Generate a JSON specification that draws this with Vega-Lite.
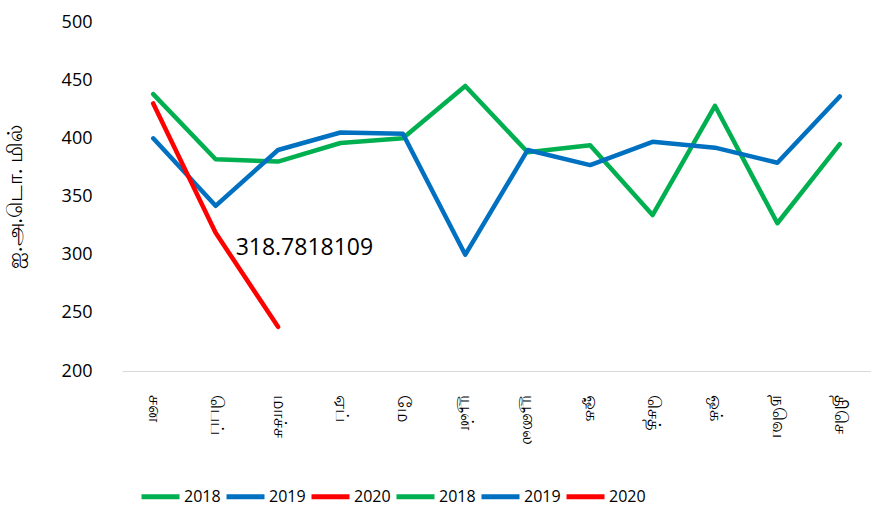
{
  "$schema": "https://vega.github.io/schema/vega-lite/v6.json",
  "width": 749,
  "height": 349,
  "autosize": {"type": "none"},
  "padding": {"left": 122, "top": 22, "right": 0, "bottom": 141},
  "background": "white",
  "config": {"view": {"stroke": null}, "font": "Open Sans"},
  "data": {"values": [
    {"month": "சன", "series": "2018", "value": 438},
    {"month": "பெப்", "series": "2018", "value": 382},
    {"month": "மாச்ச", "series": "2018", "value": 380},
    {"month": "ஏப்", "series": "2018", "value": 396},
    {"month": "மே", "series": "2018", "value": 400},
    {"month": "யூன்", "series": "2018", "value": 445},
    {"month": "யூலை", "series": "2018", "value": 388},
    {"month": "ஓக", "series": "2018", "value": 394},
    {"month": "செத்", "series": "2018", "value": 334},
    {"month": "ஒக்", "series": "2018", "value": 428},
    {"month": "நவெ", "series": "2018", "value": 327},
    {"month": "திசெ", "series": "2018", "value": 395},
    {"month": "சன", "series": "2019", "value": 400},
    {"month": "பெப்", "series": "2019", "value": 342},
    {"month": "மாச்ச", "series": "2019", "value": 390},
    {"month": "ஏப்", "series": "2019", "value": 405},
    {"month": "மே", "series": "2019", "value": 404},
    {"month": "யூன்", "series": "2019", "value": 300},
    {"month": "யூலை", "series": "2019", "value": 390},
    {"month": "ஓக", "series": "2019", "value": 377},
    {"month": "செத்", "series": "2019", "value": 397},
    {"month": "ஒக்", "series": "2019", "value": 392},
    {"month": "நவெ", "series": "2019", "value": 379},
    {"month": "திசெ", "series": "2019", "value": 436},
    {"month": "சன", "series": "2020", "value": 430},
    {"month": "பெப்", "series": "2020", "value": 318.7818109},
    {"month": "மாச்ச", "series": "2020", "value": 238}
  ]},
  "layer": [
    {
      "mark": {"type": "line", "strokeWidth": 4.5, "strokeCap": "round", "strokeJoin": "round"},
      "encoding": {
        "x": {
          "field": "month", "type": "nominal",
          "sort": ["சன", "பெப்", "மாச்ச", "ஏப்", "மே", "யூன்", "யூலை", "ஓக", "செத்", "ஒக்", "நவெ", "திசெ"],
          "scale": {"paddingInner": 0, "paddingOuter": 0},
          "axis": {
            "title": null, "labelAngle": 90, "labelAlign": "left", "labelBaseline": "middle",
            "labelFontSize": 18, "labelColor": "#000000", "labelPadding": 23,
            "ticks": false, "domainColor": "#d9d9d9", "domainWidth": 1.2
          }
        },
        "y": {
          "field": "value", "type": "quantitative",
          "scale": {"domain": [200, 500], "nice": false, "zero": false},
          "axis": {
            "title": "ஐ.அ.டொ. மில்", "titleFontSize": 21, "titleFontWeight": "normal", "titleColor": "#000000",
            "titlePadding": 36,
            "values": [200, 250, 300, 350, 400, 450, 500],
            "labelFontSize": 18, "labelColor": "#000000", "labelPadding": 30,
            "grid": false, "ticks": false, "domain": false
          }
        },
        "color": {
          "field": "series", "type": "nominal",
          "scale": {
            "domain": ["2018", "2019", "2020", "2018b", "2019b", "2020b"],
            "range": ["#00b050", "#0070c0", "#ff0000", "#00b050", "#0070c0", "#ff0000"]
          },
          "legend": {
            "title": null, "orient": "none", "legendX": 17, "legendY": 453,
            "direction": "horizontal", "columns": 6, "columnPadding": -5,
            "symbolType": "stroke", "symbolSize": 1444, "symbolStrokeWidth": 5,
            "labelFontSize": 16, "labelColor": "#000000", "labelOffset": 2,
            "labelExpr": "slice(datum.label, 0, 4)"
          }
        }
      }
    },
    {
      "transform": [{"filter": "datum.series == '2020' && datum.month == 'பெப்'"}],
      "mark": {"type": "text", "align": "left", "baseline": "middle", "dx": 20, "dy": 15, "fontSize": 23, "color": "#000000"},
      "encoding": {
        "x": {"field": "month", "type": "nominal", "sort": ["சன", "பெப்", "மாச்ச", "ஏப்", "மே", "யூன்", "யூலை", "ஓக", "செத்", "ஒக்", "நவெ", "திசெ"]},
        "y": {"field": "value", "type": "quantitative"},
        "text": {"field": "value", "type": "quantitative", "format": ".7f"}
      }
    }
  ]
}
